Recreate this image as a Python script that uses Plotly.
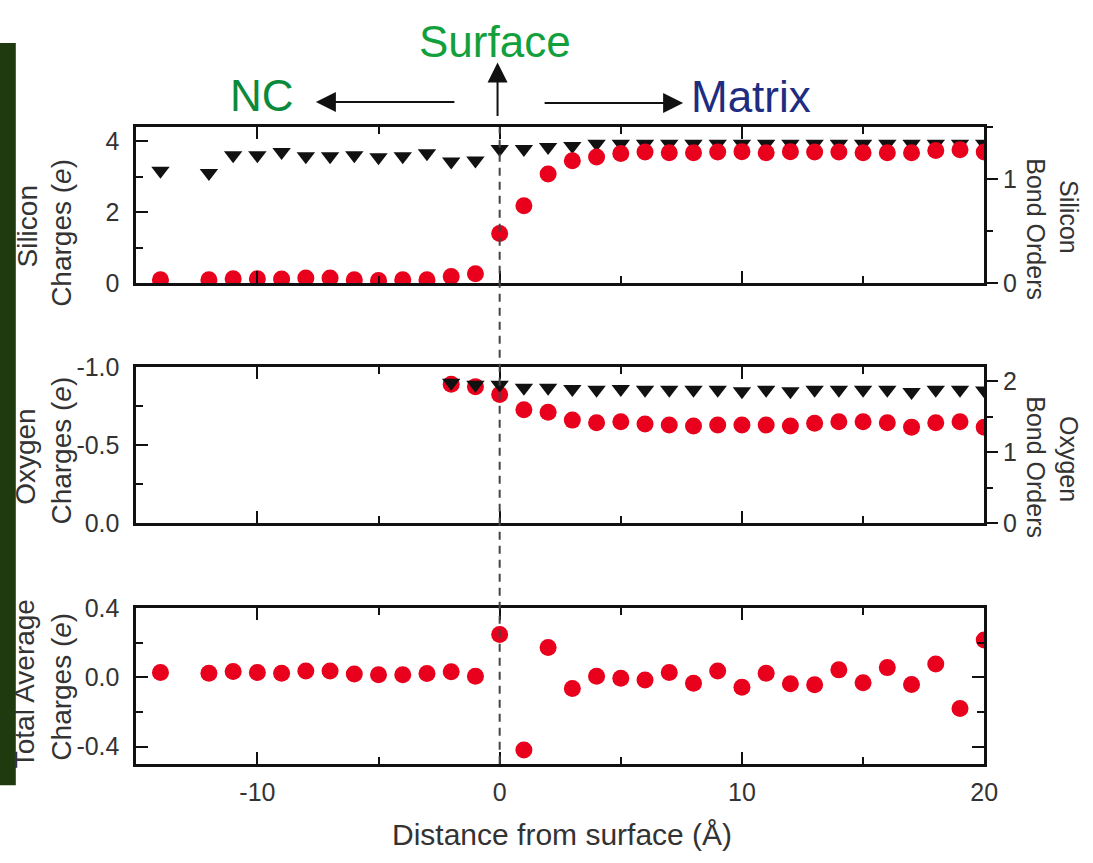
import plotly.graph_objects as go

# ---------------- data ----------------
x_si = [-14, -12, -11, -10, -9, -8, -7, -6, -5, -4, -3, -2, -1, 0, 1, 2, 3, 4, 5, 6,
        7, 8, 9, 10, 11, 12, 13, 14, 15, 16, 17, 18, 19, 20]
si_charge = [0.09, 0.09, 0.12, 0.12, 0.11, 0.14, 0.14, 0.09, 0.07, 0.09, 0.09, 0.18, 0.26,
             1.40, 2.18, 3.08, 3.45, 3.56, 3.66, 3.70, 3.68, 3.68, 3.70, 3.71, 3.68, 3.71,
             3.70, 3.70, 3.68, 3.68, 3.68, 3.74, 3.76, 3.70]
si_bond = [1.08, 1.06, 1.23, 1.23, 1.26, 1.22, 1.22, 1.23, 1.21, 1.22, 1.25, 1.17, 1.18,
           1.29, 1.29, 1.31, 1.32, 1.34, 1.34, 1.34, 1.34, 1.34, 1.34, 1.34, 1.34, 1.34,
           1.34, 1.34, 1.34, 1.34, 1.34, 1.34, 1.34, 1.34]

x_o = [-2, -1, 0, 1, 2, 3, 4, 5, 6, 7, 8, 9, 10, 11, 12, 13, 14, 15, 16, 17, 18, 19, 20]
o_charge = [-0.89, -0.875, -0.825, -0.726, -0.711, -0.66, -0.643, -0.649, -0.635, -0.629,
            -0.623, -0.629, -0.629, -0.629, -0.623, -0.64, -0.649, -0.649, -0.643, -0.615,
            -0.643, -0.649, -0.615]
o_bond = [1.98, 1.95, 1.95, 1.91, 1.91, 1.89, 1.88, 1.89, 1.88, 1.88, 1.88, 1.88, 1.86,
          1.88, 1.86, 1.88, 1.88, 1.88, 1.88, 1.85, 1.88, 1.88, 1.87]

x_tot = x_si
tot_charge = [0.028, 0.024, 0.034, 0.028, 0.024, 0.037, 0.037, 0.019, 0.015, 0.015, 0.022,
              0.032, 0.006, 0.247, -0.42, 0.172, -0.065, 0.006, -0.006, -0.015, 0.028,
              -0.034, 0.037, -0.058, 0.024, -0.037, -0.043, 0.043, -0.032, 0.056, -0.041,
              0.077, -0.18, 0.215]

# tick labels (hyphen minus as in the original)
x_tickvals = [-10, 0, 10, 20]
x_ticktext = ["-10", "0", "10", "20"]
si_tickvals = [0, 2, 4]
si_ticktext = ["0", "2", "4"]
sib_tickvals = [0, 1]
sib_ticktext = ["0", "1"]
o_tickvals = [-1.0, -0.5, 0.0]
o_ticktext = ["-1.0", "-0.5", "0.0"]
ob_tickvals = [0, 1, 2]
ob_ticktext = ["0", "1", "2"]
tot_tickvals = [-0.4, 0.0, 0.4]
tot_ticktext = ["-0.4", "0.0", "0.4"]

# ---------------- style ----------------
W, H = 1093, 863
FONT = "Liberation Sans, Arial, Helvetica, sans-serif"
RED = "#e8001c"
BLK = "#111111"
TXT = "#333333"

def px_x(p):
    return p / W

def px_y(p):
    return 1 - p / H

XD = [px_x(138), px_x(997)]
TOP = [px_y(278), px_y(117)]
MID = [px_y(526), px_y(365)]
BOT = [px_y(775), px_y(614)]

fig = go.Figure()

red_marker = dict(symbol="circle", size=17, color=RED, line=dict(width=0))
tri_marker = dict(symbol="triangle-down", size=16, color=BLK, line=dict(width=0))

# top panel: base y = bond orders (right), y2 = charges (left, drawn on top)
fig.add_trace(go.Scatter(x=x_si, y=si_bond, mode="markers", marker=tri_marker,
                         xaxis="x", yaxis="y", showlegend=False))
fig.add_trace(go.Scatter(x=x_si, y=si_charge, mode="markers", marker=red_marker,
                         xaxis="x", yaxis="y2", showlegend=False))
# middle panel: y3 = oxygen charges (left), y4 = bond orders (right, drawn on top)
fig.add_trace(go.Scatter(x=x_o, y=o_charge, mode="markers", marker=red_marker,
                         xaxis="x2", yaxis="y3", showlegend=False))
fig.add_trace(go.Scatter(x=x_o, y=o_bond, mode="markers", marker=tri_marker,
                         xaxis="x2", yaxis="y4", showlegend=False))
# bottom panel
fig.add_trace(go.Scatter(x=x_tot, y=tot_charge, mode="markers", marker=red_marker,
                         xaxis="x3", yaxis="y5", showlegend=False))

tickfont = dict(family=FONT, size=25, color=TXT)

def xax(anchor, labels):
    return dict(domain=XD, anchor=anchor, range=[-15, 20], showline=True, linewidth=2.5,
                linecolor=BLK, mirror="ticks", ticks="inside", ticklen=12, tickwidth=2,
                tickcolor=BLK, tickmode="array", tickvals=x_tickvals, ticktext=x_ticktext,
                showgrid=False, zeroline=False, ticklabelstandoff=4,
                showticklabels=labels, tickfont=tickfont,
                minor=dict(ticks="inside", dtick=5, tick0=0, ticklen=7, tickwidth=2,
                           tickcolor=BLK, showgrid=False))

def yax_left(domain, rng, vals, text, minor_dtick, anchor, mirror=False, overlaying=None):
    d = dict(anchor=anchor, side="left", range=rng, showline=True, linewidth=2.5,
             linecolor=BLK, ticks="inside", ticklen=12, tickwidth=2, tickcolor=BLK,
             tickmode="array", tickvals=vals, ticktext=text,
             showgrid=False, zeroline=False, tickfont=tickfont, ticklabelstandoff=9,
             minor=dict(ticks="inside", dtick=minor_dtick, tick0=0, ticklen=7, tickwidth=2,
                        tickcolor=BLK, showgrid=False))
    if overlaying:
        d["overlaying"] = overlaying
    else:
        d["domain"] = domain
    if mirror:
        d["mirror"] = "ticks"
    return d

def yax_right(domain, rng, vals, text, minor_dtick, anchor, overlaying=None):
    d = dict(anchor=anchor, side="right", range=rng, showline=True, linewidth=2.5,
             linecolor=BLK, ticks="outside", ticklen=11, tickwidth=2, tickcolor=BLK,
             tickmode="array", tickvals=vals, ticktext=text,
             showgrid=False, zeroline=False, tickfont=tickfont,
             minor=dict(ticks="outside", dtick=minor_dtick, tick0=0, ticklen=6, tickwidth=2,
                        tickcolor=BLK, showgrid=False))
    if overlaying:
        d["overlaying"] = overlaying
    else:
        d["domain"] = domain
    return d

fig.update_layout(
    width=W, height=H, margin=dict(l=0, r=0, t=0, b=0),
    paper_bgcolor="white", plot_bgcolor="rgba(0,0,0,0)",
    font=dict(family=FONT, color=TXT),
    xaxis=xax("y", False),
    xaxis2=xax("y3", False),
    xaxis3=xax("y5", True),
    yaxis=yax_right(TOP, [0, 1.5], sib_tickvals, sib_ticktext, 0.5, "x"),
    yaxis2=yax_left(None, [0, 4.4], si_tickvals, si_ticktext, 1, "x", overlaying="y"),
    yaxis3=yax_left(MID, [0, -1.0], o_tickvals, o_ticktext, 0.25, "x2"),
    yaxis4=yax_right(None, [0, 2.2], ob_tickvals, ob_ticktext, 0.5, "x2", overlaying="y3"),
    yaxis5=yax_left(BOT, [-0.5, 0.4], tot_tickvals, tot_ticktext, 0.2, "x3", mirror=True),
)

# dark green band on the left edge
fig.add_shape(type="rect", xref="paper", yref="paper", x0=0, x1=px_x(16),
              y0=px_y(797), y1=px_y(30), fillcolor="#1f3a0e", line=dict(width=0),
              layer="below")

# dashed surface line through all panels
fig.add_shape(type="line", xref="x", yref="paper", x0=0, x1=0, y0=px_y(775), y1=px_y(117),
              line=dict(color="#444444", width=2, dash="8px,6px"))

# axis titles: each line placed separately (tight line spacing as in the original)
left_font = dict(family=FONT, size=28, color=TXT)
right_font = dict(family=FONT, size=25, color=TXT)
ann = []
ann.append(dict(text="Silicon", x=px_x(28), y=px_y(220), textangle=-90, font=left_font))
ann.append(dict(text="Charges (<i>e</i>)", x=px_x(62), y=px_y(226), textangle=-90, font=left_font))
ann.append(dict(text="Oxygen", x=px_x(26), y=px_y(457), textangle=-90, font=left_font))
ann.append(dict(text="Charges (<i>e</i>)", x=px_x(62), y=px_y(451), textangle=-90, font=left_font))
ann.append(dict(text="Total Average", x=px_x(25), y=px_y(692), textangle=-90, font=left_font))
ann.append(dict(text="Charges (<i>e</i>)", x=px_x(62), y=px_y(695), textangle=-90, font=left_font))
ann.append(dict(text="Silicon", x=px_x(1083), y=px_y(210), textangle=90, font=right_font))
ann.append(dict(text="Bond Orders", x=px_x(1050), y=px_y(222), textangle=90, font=right_font))
ann.append(dict(text="Oxygen", x=px_x(1083), y=px_y(460), textangle=90, font=right_font))
ann.append(dict(text="Bond Orders", x=px_x(1050), y=px_y(468), textangle=90, font=right_font))
ann.append(dict(text="Distance from surface (Å)", x=px_x(569), y=px_y(848), textangle=0,
                font=dict(family=FONT, size=30, color=TXT)))
for a in ann:
    a.update(xref="paper", yref="paper", showarrow=False, xanchor="center", yanchor="middle")

big = []
big.append(dict(text="Surface", x=px_x(501), y=px_y(28), font=dict(family=FONT, size=44, color="#12a03c")))
big.append(dict(text="NC", x=px_x(265), y=px_y(84), font=dict(family=FONT, size=44, color="#0b8a3c")))
big.append(dict(text="Matrix", x=px_x(761), y=px_y(85), font=dict(family=FONT, size=44, color="#1e2d80")))
for a in big:
    a.update(xref="paper", yref="paper", showarrow=False, xanchor="center", yanchor="middle")

arrows = [
    dict(x=px_x(504), y=px_y(50), ax=0, ay=55),     # Surface (up)
    dict(x=px_x(320), y=px_y(91), ax=140, ay=0),    # NC (left)
    dict(x=px_x(692), y=px_y(92), ax=-140, ay=0),   # Matrix (right)
]
for a in arrows:
    a.update(xref="paper", yref="paper", text="", showarrow=True, arrowhead=2,
             arrowsize=2, arrowwidth=2, arrowcolor="#111111", standoff=0, startstandoff=0)

fig.update_layout(annotations=ann + big + arrows)

fig.write_html("out.html")
